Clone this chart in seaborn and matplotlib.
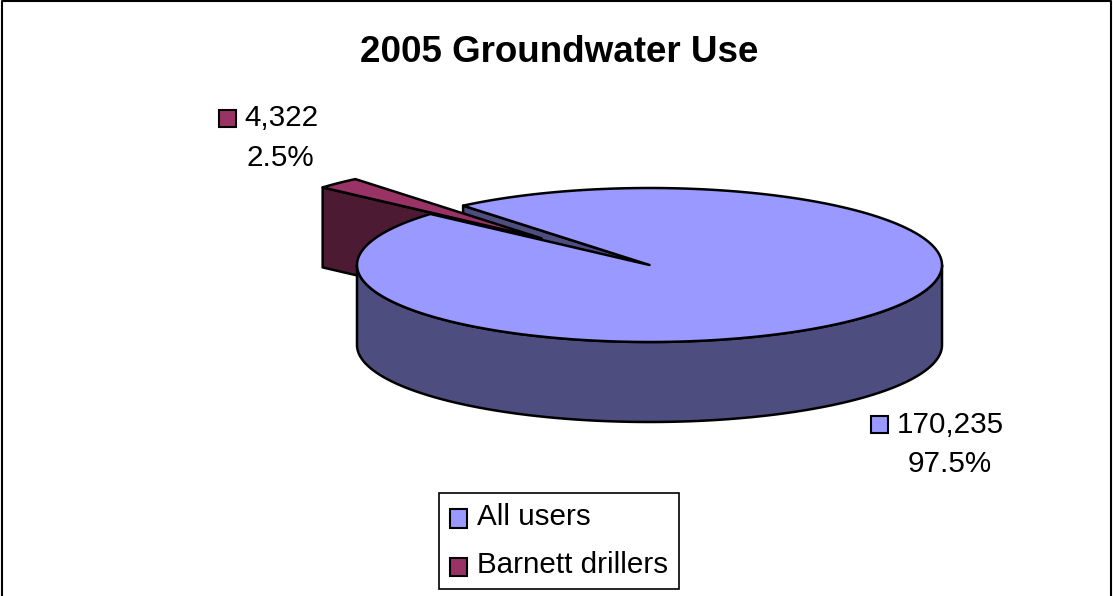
import numpy as np
import matplotlib
matplotlib.use("Agg")
import matplotlib.pyplot as plt
from matplotlib.patches import Patch, Polygon, Rectangle
import seaborn as sns

# Groundwater use, 2005
users = ["All users", "Barnett drillers"]
volumes = [170235, 4322]
title = "2005 Groundwater Use"

sns.set_theme(style="white")
plt.rcParams["font.family"] = ["Liberation Sans", "DejaVu Sans"]

top_colors = sns.color_palette(["#9999ff", "#993366"])
side_colors = sns.color_palette(["#4d4d80", "#4d1a33"])
W, H = 1113, 596

fig = plt.figure(figsize=(W / 100, H / 100), dpi=100, facecolor="white")
ax = fig.add_axes([0, 0, 1, 1])
ax.set_xlim(0, W)
ax.set_ylim(H, 0)
ax.axis("off")

# Tilted-disc geometry, in canvas units
cx, cy, rx, ry, depth = 649.5, 265, 292.5, 77, 80
start = 138.5
explode_x, explode_y = 0.53, 0.48
edge = dict(edgecolor="black", linewidth=1.8, joinstyle="round")

total = sum(volumes)
shares = [v / total for v in volumes]
main_end = start + 360 * shares[0]
small_start = main_end - 360
small_mid = np.radians(small_start + 180 * shares[1])
ox, oy = explode_x * rx * np.cos(small_mid), -explode_y * ry * np.sin(small_mid)


def rim(t0, t1, dx=0, dy=0, n=240):
    t = np.radians(np.linspace(t0, t1, n))
    return np.column_stack([cx + dx + rx * np.cos(t), cy + dy - ry * np.sin(t)])


# Exploded slice: cut face, then its top
near = rim(start, start, ox, oy, 1)[0]
tip = np.array([cx + ox, cy + oy])
ax.add_patch(Polygon([near, tip, tip + [0, depth], near + [0, depth]],
                     facecolor=side_colors[1], zorder=1, **edge))

# Inner wall of the notch left in the main slice
far = rim(small_start, small_start, n=1)[0]
centre = np.array([cx, cy])
ax.add_patch(Polygon([far, centre, centre + [0, depth], far + [0, depth]],
                     facecolor=side_colors[0], zorder=2, **edge))

ax.add_patch(Polygon(np.vstack([rim(small_start, start, ox, oy, 30), tip]),
                     facecolor=top_colors[1], zorder=3, **edge))

# Main slice: outer wall, then top
ax.add_patch(Polygon(np.vstack([rim(180, 360), rim(360, 180, dy=depth)]),
                     facecolor=side_colors[0], zorder=4, **edge))
ax.add_patch(Polygon(np.vstack([rim(start, main_end), centre]),
                     facecolor=top_colors[0], zorder=5, **edge))

# Data labels with their colour keys
label_pos = [((870.5, 416), (897, 425), (992, 464)),
             ((219, 110), (244, 118), (314, 158))]
for i, (key, line1, line2) in enumerate(label_pos):
    ax.add_patch(Rectangle(key, 17, 17, facecolor=top_colors[i],
                           edgecolor="black", linewidth=1.5, zorder=6))
    ax.text(*line1, f"{volumes[i]:,}", fontsize=21.3, va="center", ha="left", color="black")
    ax.text(*line2, f"{shares[i]:.1%}", fontsize=21.3, va="center", ha="right", color="black")

ax.text(559, 52, title, fontsize=26.5, fontweight="bold", ha="center", va="center", color="black")

handles = [Patch(facecolor=top_colors[i], edgecolor="black", linewidth=1.5, label=users[i])
           for i in range(2)]
leg = ax.legend(handles=handles, loc="center", bbox_to_anchor=(559 / W, 1 - 541 / H),
                fontsize=21.3, frameon=True, fancybox=False, framealpha=1, edgecolor="black",
                handlelength=0.58, handleheight=0.58, handletextpad=0.36,
                labelspacing=0.68, borderpad=0.34, borderaxespad=0, labelcolor="black")
leg.get_frame().set_linewidth(1.2)
leg.set_zorder(7)
# Keys sit a little below the middle of their labels
for key_patch in leg.get_patches():
    key_patch.set_y(key_patch.get_y() - 3)

# Outer chart frame, open along the lower edge
ax.plot([2, 2, 1111, 1111], [H, 0.8, 0.8, H], color="black", lw=1.5, zorder=8, clip_on=False)

fig.savefig("out.png", dpi=100, facecolor="white")
